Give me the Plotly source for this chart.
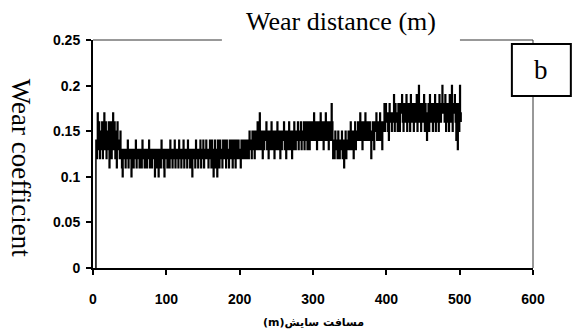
import plotly.graph_objects as go

# Wear coefficient readings (in hundredths), one reading per metre of wear distance, starting at 3 m
wear_x100 = [
    0,
    14, 12, 17, 13, 16, 12, 15, 13, 16, 12, 14, 17, 13, 16, 12, 15, 13, 16, 11, 14,
    16, 12, 15, 17, 13, 16, 12, 15, 11, 16, 13, 14, 12, 15,
    13, 11, 10, 13, 12, 13, 11, 13, 12, 14,
    11, 13, 12, 13, 10, 12, 13, 11, 13, 12,
    14, 11, 13, 12, 13, 11, 12, 13, 11, 14,
    12, 13, 11, 13, 12, 11, 13, 12, 14, 11,
    13, 12, 11, 13, 12, 13, 10, 12, 13, 11,
    13, 10, 12, 13, 11, 14, 12, 13, 11, 10,
    13, 12, 13, 11, 13, 12, 11, 14, 12, 13,
    11, 13, 12, 14, 11, 13, 12, 13, 11, 14,
    12, 13, 11, 13, 12, 14, 11, 13, 12, 13,
    11, 14, 12, 13, 11, 12, 13, 10, 13, 12,
    13, 11, 14, 12, 13, 11, 13, 12, 14, 11,
    13, 12, 14, 11, 13, 12, 14, 12, 13, 11,
    13, 14, 12, 11, 14, 13, 10, 12, 14, 11,
    13, 10, 14, 12, 11, 14, 13, 12, 11, 14,
    12, 14, 13, 11, 14, 12, 13, 11, 14, 12,
    13, 14, 11, 12, 14, 13, 11, 14, 12, 13,
    14, 12, 13, 11, 14, 12, 13, 14, 12, 13,
    14, 12, 13, 14, 12, 15, 13, 14, 12, 15,
    13, 15, 12, 14, 15, 13, 16, 14, 13, 17,
    13, 15, 14, 12, 15, 13, 15, 14, 16, 13,
    15, 12, 14, 15, 13, 16, 14, 13, 15, 12,
    15, 13, 14, 16, 13, 15, 14, 12, 15, 13,
    15, 14, 16, 13, 15, 12, 14, 15, 13, 16,
    13, 15, 14, 12, 15, 13, 16, 14, 13, 15,
    14, 16, 13, 15, 14, 16, 13, 15, 14, 16,
    13, 15, 16, 14, 13, 16, 15, 13, 16, 14,
    15, 16, 14, 17, 15, 14, 16, 13, 16, 15,
    14, 16, 17, 14, 15, 16, 13, 16, 14, 17,
    15, 14, 16, 13, 16, 15, 14, 18, 16, 12,
    14, 12, 15, 13, 14, 12, 15, 13, 12, 14,
    13, 15, 12, 14, 11, 13, 15, 12, 14, 13,
    15, 13, 14, 16, 13, 15, 14, 12, 15, 16,
    13, 15, 14, 16, 14, 15, 17, 14, 16, 13,
    15, 16, 14, 17, 15, 14, 16, 15, 14, 16,
    14, 12, 15, 16, 14, 13, 16, 15, 17, 14,
    16, 14, 15, 17, 14, 16, 13, 16, 15, 18,
    15, 18, 16, 17, 15, 14, 18, 16, 17, 15,
    17, 16, 19, 15, 18, 16, 17, 15, 18, 16,
    15, 18, 17, 19, 16, 15, 18, 17, 16, 19,
    15, 17, 18, 16, 15, 19, 17, 16, 18, 15,
    17, 18, 16, 19, 15, 17, 20, 16, 18, 15,
    18, 16, 17, 19, 15, 18, 16, 14, 17, 18,
    15, 19, 16, 18, 17, 15, 18, 16, 19, 15,
    17, 18, 16, 15, 19, 17, 16, 18, 20, 17,
    18, 16, 19, 15, 17, 18, 16, 15, 19, 17,
    16, 20, 15, 18, 17, 19, 16, 14, 18, 13,
    18, 15, 20, 17, 16,
]
start_m = 3
distance_m = [start_m + i for i in range(len(wear_x100))]
wear_coeff = [v / 100 for v in wear_x100]

x_ticks = [0, 100, 200, 300, 400, 500, 600]
y_ticks = [0, 0.05, 0.1, 0.15, 0.2, 0.25]
y_tick_text = ["0", "0.05", "0.1", "0.15", "0.2", "0.25"]

title_text = "Wear distance (m)"
y_title_text = "Wear coefficient"
x_title_text = "(m)مسافت سایش"
panel_label = "b"

tick_font = dict(family="Liberation Sans Narrow, Arial Narrow, Liberation Sans", size=14, color="black", weight="bold")
serif = "Liberation Serif, Times New Roman, serif"

fig = go.Figure()
fig.add_trace(go.Scatter(
    x=distance_m, y=wear_coeff, mode="lines",
    line=dict(color="black", width=1.5, shape="hv"),
    showlegend=False, hoverinfo="skip",
))

fig.update_layout(
    width=576, height=335,
    margin=dict(l=93, r=43, t=40, b=67),
    paper_bgcolor="white", plot_bgcolor="white",
    xaxis=dict(
        range=[0, 600], tickvals=x_ticks, ticktext=[str(t) for t in x_ticks],
        showgrid=False, zeroline=False, showline=True, linecolor="black", linewidth=2,
        ticks="outside", ticklen=5, tickwidth=1.5, tickcolor="black",
        tickfont=tick_font, ticklabelstandoff=12,
    ),
    yaxis=dict(
        range=[0, 0.25], tickvals=y_ticks, ticktext=y_tick_text,
        showgrid=False, zeroline=False, showline=True, linecolor="black", linewidth=2,
        ticks="outside", ticklen=5, tickwidth=1.5, tickcolor="black",
        tickfont=tick_font, ticklabelstandoff=3,
    ),
)

# Partial frame: top line broken for the title, right line
frame_col = "#333333"
fig.add_shape(type="line", xref="paper", yref="paper", x0=0, x1=0.293, y0=1, y1=1,
              line=dict(color=frame_col, width=1))
fig.add_shape(type="line", xref="paper", yref="paper", x0=0.834, x1=1, y0=1, y1=1,
              line=dict(color=frame_col, width=1))
fig.add_shape(type="line", xref="paper", yref="paper", x0=1, x1=1, y0=0, y1=1,
              line=dict(color=frame_col, width=1))
# Panel label box
fig.add_shape(type="rect", xref="paper", yref="paper", x0=0.952, x1=1.086, y0=0.754, y1=0.982,
              line=dict(color="black", width=2), fillcolor="white", layer="above")

fig.add_annotation(text=panel_label, xref="paper", yref="paper", x=1.019, y=0.868,
                   showarrow=False, xanchor="center", yanchor="middle",
                   font=dict(family=serif, size=27, color="black"))
fig.add_annotation(text=title_text, xref="paper", yref="paper", x=0.5625, y=1.079,
                   showarrow=False, xanchor="center", yanchor="middle",
                   font=dict(family=serif, size=26, color="black"))
fig.add_annotation(text=y_title_text, xref="paper", yref="paper", x=-0.1636, y=0.44,
                   showarrow=False, xanchor="center", yanchor="middle", textangle=90,
                   font=dict(family=serif, size=27, color="black"))
fig.add_annotation(text=x_title_text, xref="paper", yref="paper", x=0.5, y=-0.24,
                   showarrow=False, xanchor="center", yanchor="middle",
                   font=dict(family="DejaVu Sans, Noto Sans", size=11, color="black", weight="bold"))

fig.write_html("out.html")
